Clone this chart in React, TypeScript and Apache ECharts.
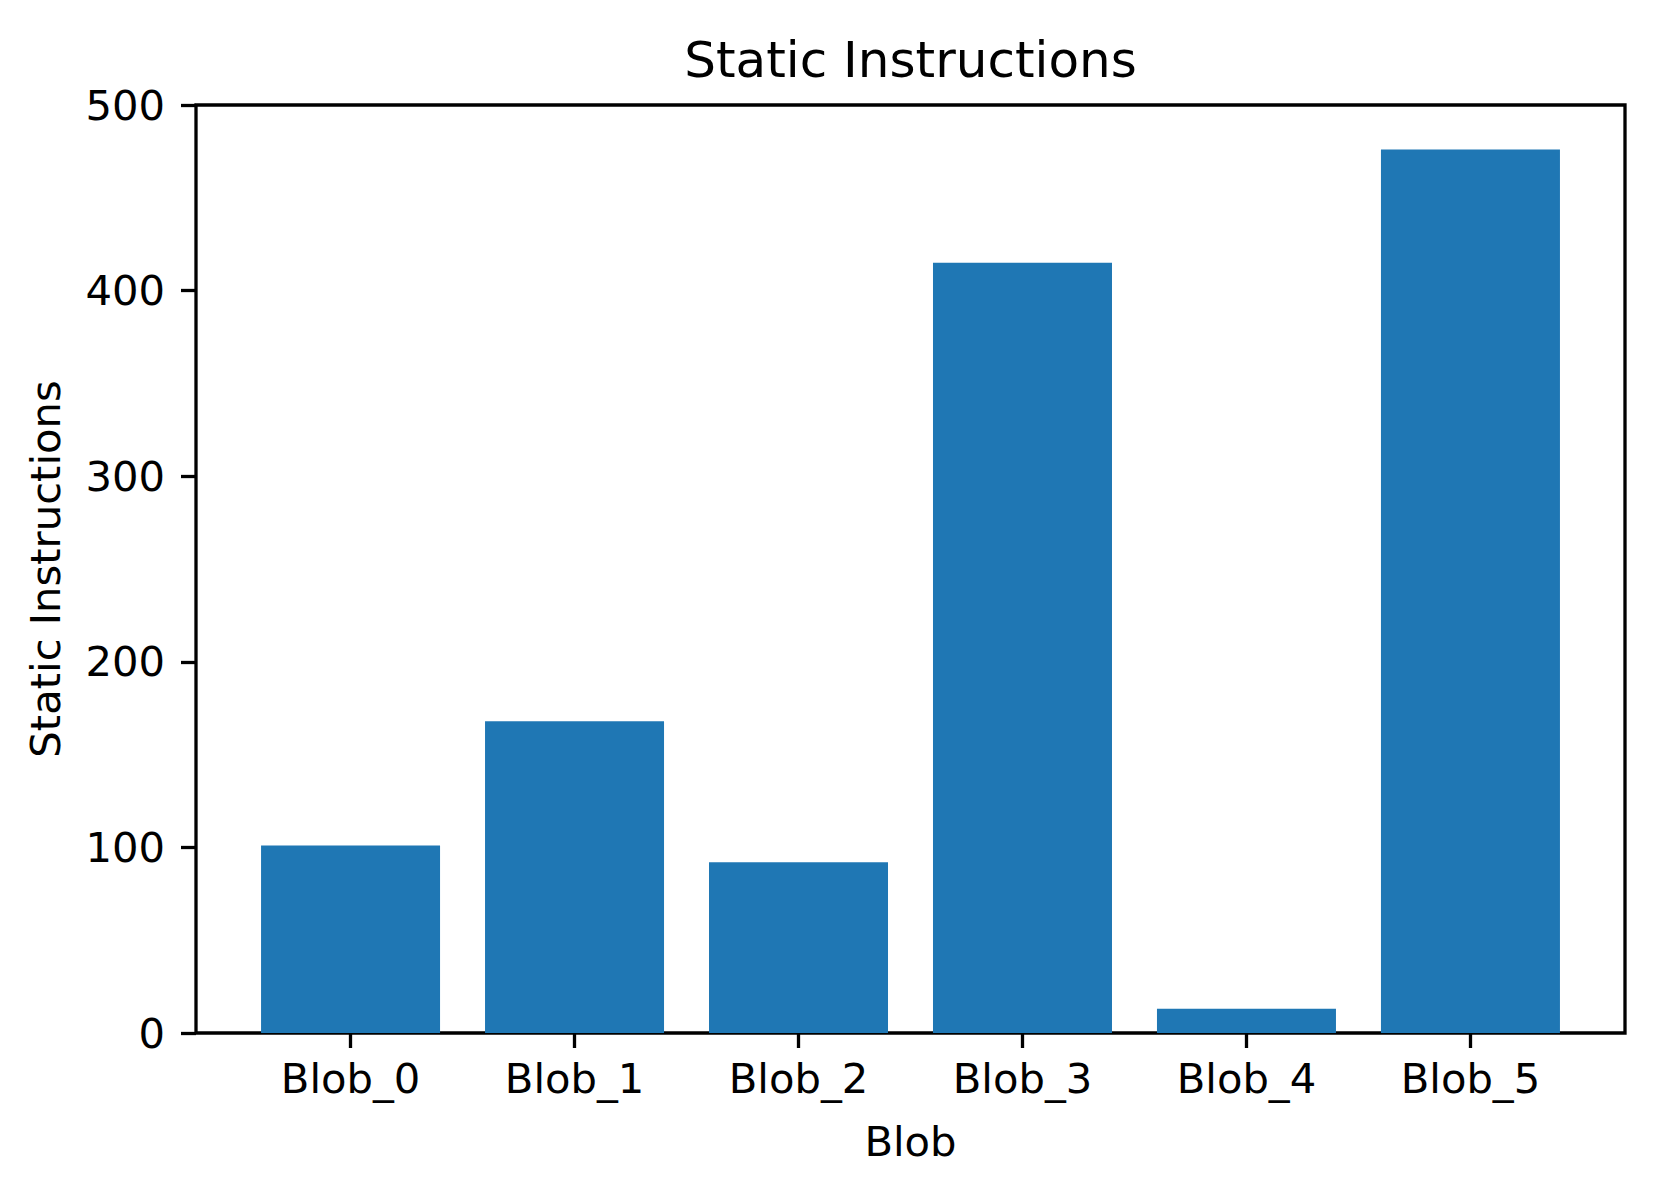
import React, { useEffect, useRef } from "react";
import * as echarts from "echarts";

const categories = ["Blob_0", "Blob_1", "Blob_2", "Blob_3", "Blob_4", "Blob_5"];
const values = [101, 168, 92, 415, 13, 476];
const yTicks = [0, 100, 200, 300, 400, 500];

const FONT = "DejaVu Sans";

export default function App() {
  const ref = useRef<HTMLDivElement>(null);
  useEffect(() => {
    if (!ref.current) return;
    const chart = echarts.init(ref.current, undefined, { renderer: "svg" });
    const positions = categories.map((_, i) => i);
    chart.setOption({
      animation: false,
      backgroundColor: "#ffffff",
      grid: {
        left: 196,
        top: 105,
        width: 1429,
        height: 928,
        show: true,
        borderColor: "#000",
        borderWidth: 3.3,
        backgroundColor: "transparent",
        containLabel: false,
      },
      graphic: [
        {
          type: "text",
          x: 910.5,
          y: 60,
          style: {
            text: "Static Instructions",
            fontSize: 50,
            fontFamily: FONT,
            fill: "#000",
            align: "center",
            verticalAlign: "middle",
            textAlign: "center",
            textVerticalAlign: "middle",
          },
        },
      ],
      xAxis: {
        type: "value",
        min: -0.69,
        max: 5.69,
        name: "Blob",
        nameLocation: "middle",
        nameGap: 87,
        nameTextStyle: { fontSize: 41.7, fontFamily: FONT, color: "#000", lineHeight: 42 },
        axisLine: { show: false, onZero: false },
        splitLine: { show: false },
        axisTick: {
          show: true,
          customValues: positions,
          length: 15,
          lineStyle: { color: "#000", width: 3.3 },
        },
        axisLabel: {
          show: true,
          customValues: positions,
          formatter: (v: number) => categories[Math.round(v)] ?? "",
          fontSize: 41.7,
          fontFamily: FONT,
          color: "#000",
          margin: 24,
          lineHeight: 42,
        },
      },
      yAxis: {
        type: "value",
        min: 0,
        max: 500,
        interval: 100,
        name: "Static Instructions",
        nameLocation: "middle",
        nameRotate: 90,
        nameGap: 130,
        nameTextStyle: { fontSize: 41.7, fontFamily: FONT, color: "#000", lineHeight: 42 },
        axisLine: { show: false, onZero: false },
        splitLine: { show: false },
        axisTick: { show: true, length: 15, lineStyle: { color: "#000", width: 3.3 } },
        axisLabel: {
          fontSize: 41.7,
          fontFamily: FONT,
          color: "#000",
          margin: 31,
          formatter: (v: number) => (yTicks.includes(v) ? String(v) : ""),
        },
      },
      series: [
        {
          type: "bar",
          data: values.map((v, i) => [positions[i], v]),
          barWidth: 179,
          itemStyle: { color: "#1f77b4" },
          z: 1,
        },
      ],
    });
    return () => chart.dispose();
  }, []);
  return (
    <div
      ref={ref}
      style={{ position: "absolute", left: 0, top: 0, width: 1654, height: 1179 }}
    />
  );
}
